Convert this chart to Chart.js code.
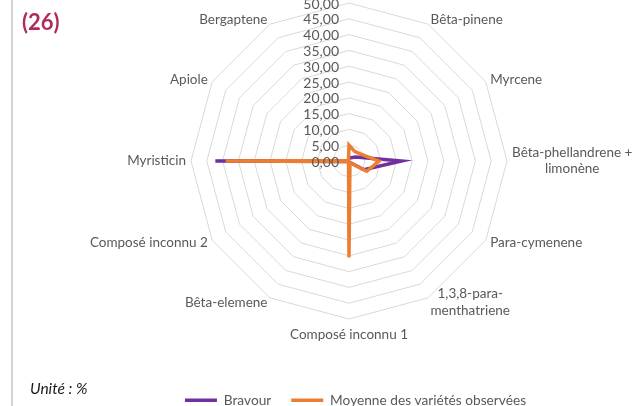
<!DOCTYPE html>
<html><head><meta charset="utf-8">
<script src="https://cdn.jsdelivr.net/npm/chart.js@4"></script>
<style>
html,body{margin:0;padding:0;background:#fff;overflow:hidden;width:635px;height:406px}
#wrap{position:relative;width:635px;height:406px;overflow:hidden;background:#fff}
#frame{position:absolute;left:11px;top:0;width:2px;height:406px;background:#d4d4d4}
#num{position:absolute;left:22px;top:8px;font:bold 22px Lato,sans-serif;color:#b02a5c}
#unit{position:absolute;left:30px;top:379px;font:italic 15.5px Lato,sans-serif;color:#1a1a1a}
#box{position:absolute;left:0;top:0;width:635px;height:417px}
</style></head><body>
<div id="wrap">
<div id="box"><canvas id="cv"></canvas></div>
<div id="frame"></div>
<div id="num">(26)</div>
<div id="unit">Unité : %</div>
</div>
<script>
const categories = ['', 'Bêta-pinene', 'Myrcene', ['Bêta-phellandrene +', 'limonène'], 'Para-cymenene',
  ['1,3,8-para-', 'menthatriene'], 'Composé inconnu 1', 'Bêta-elemene', 'Composé inconnu 2',
  'Myristicin', 'Apiole', 'Bergaptene'];
const bravour = [1.0, 1.2, 2.5, 16.6, 5.5, 0.5, 0.5, 0.3, 0.3, 42.3, 0.3, 0.3];
const moyenne = [5.0, 3.5, 4.3, 9.5, 6.5, 0.6, 30.5, 0.3, 0.3, 39.0, 0.3, 0.3];
const tickValues = [0, 5, 10, 15, 20, 25, 30, 35, 40, 45, 50];
const tickLabels = ['0,00', '5,00', '10,00', '15,00', '20,00', '25,00', '30,00', '35,00', '40,00', '45,00', '50,00'];
const seriesNames = ['Bravour', 'Moyenne des variétés observées'];

const CX = 349, CY = 161, R = 158;
const GREY = '#595959';
const FONT = 'Lato';

const tickPlugin = {
  id: 'tickText',
  afterDatasetsDraw(chart) {
    const s = chart.scales.r;
    const ctx = chart.ctx;
    ctx.save();
    ctx.font = '14px ' + FONT;
    ctx.fillStyle = GREY;
    ctx.textAlign = 'right';
    ctx.textBaseline = 'middle';
    tickValues.forEach((v, i) => {
      const d = s.getDistanceFromCenterForValue(v);
      ctx.fillText(tickLabels[i], s.xCenter - 10, s.yCenter - d + 1);
    });
    ctx.restore();
  }
};

new Chart(document.getElementById('cv'), {
  type: 'radar',
  data: {
    labels: categories,
    datasets: [
      { label: seriesNames[0], data: bravour, borderColor: '#7030a0', backgroundColor: '#7030a0',
        borderWidth: 3.5, pointRadius: 0, fill: false, order: 1, clip: false },
      { label: seriesNames[1], data: moyenne, borderColor: '#ed7d31', backgroundColor: '#ed7d31',
        borderWidth: 3.5, pointRadius: 0, fill: false, order: 0, clip: false }
    ]
  },
  options: {
    responsive: true,
    maintainAspectRatio: false,
    animation: false,
    layout: { padding: { left: 76, right: 0, top: 0, bottom: 0 } },
    plugins: {
      tooltip: { enabled: false },
      legend: {
        position: 'bottom',
        labels: {
          usePointStyle: true, pointStyle: 'line', pointStyleWidth: 32,
          padding: 20, color: GREY, font: { family: FONT, size: 13.7 },
          sort: (a, b) => a.datasetIndex - b.datasetIndex
        }
      }
    },
    scales: {
      r: {
        min: 0, max: 50,
        ticks: { stepSize: 5, display: false },
        grid: { color: '#d9d9d9', lineWidth: 1 },
        angleLines: { display: false },
        pointLabels: { color: GREY, font: { family: FONT, size: 13.5 }, padding: 5 },
        beforeFit(scale) {
          scale.setCenterPoint = function () {
            this.xCenter = CX; this.yCenter = CY; this.drawingArea = R;
          };
        },
        afterFit(scale) {
          const items = scale._pointLabelItems || [];
          const n = items.length;
          items.forEach((it, i) => {
            const ang = i * 360 / n;
            const h = it.bottom - it.top;
            if (Array.isArray(categories[i])) {
              it.textAlign = 'center';
              it.x = (it.left + it.right) / 2;
            }
            let dy = 0;
            if (ang === 180) dy = 3;
            else if (ang > 0 && ang < 90) dy = h / 2;
            else if (ang > 270) dy = h / 2;
            else if (ang > 90 && ang < 270) dy = -h / 2;
            it.y += dy; it.top += dy; it.bottom += dy;
          });
        }
      }
    }
  },
  plugins: [tickPlugin]
});
</script>
</body></html>
